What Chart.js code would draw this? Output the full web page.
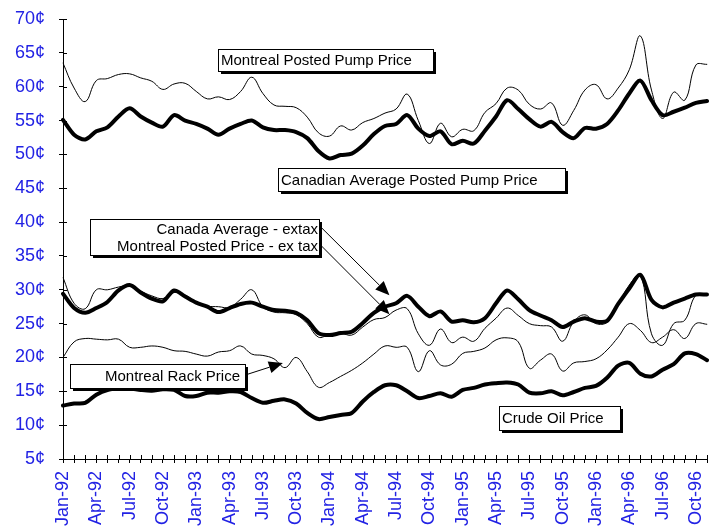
<!DOCTYPE html>
<html>
<head>
<meta charset="utf-8">
<script src="https://cdn.jsdelivr.net/npm/chart.js@4/dist/chart.umd.min.js"></script>
<style>
  html, body { margin: 0; padding: 0; background: #fff; overflow: hidden; }
  canvas { display: block; }
</style>
</head>
<body>
<canvas id="c" width="709" height="527"></canvas>
<script>
// Monthly gasoline and crude prices, cents per litre, Jan-92 .. Nov-96
const months = [
  'Jan-92','Feb-92','Mar-92','Apr-92','May-92','Jun-92','Jul-92','Aug-92','Sep-92','Oct-92','Nov-92','Dec-92',
  'Jan-93','Feb-93','Mar-93','Apr-93','May-93','Jun-93','Jul-93','Aug-93','Sep-93','Oct-93','Nov-93','Dec-93',
  'Jan-94','Feb-94','Mar-94','Apr-94','May-94','Jun-94','Jul-94','Aug-94','Sep-94','Oct-94','Nov-94','Dec-94',
  'Jan-95','Feb-95','Mar-95','Apr-95','May-95','Jun-95','Jul-95','Aug-95','Sep-95','Oct-95','Nov-95','Dec-95',
  'Jan-96','Feb-96','Mar-96','Apr-96','May-96','Jun-96','Jul-96','Aug-96','Sep-96','Oct-96','Nov-96'
];

const montrealPump = [
  63.5, 59.8, 57.8, 60.9, 61.2, 61.8, 61.9, 61.3, 60.8, 59.6, 60.4, 60.5,
  59.3, 58.2, 58.5, 58.1, 59.3, 61.4, 59.0, 57.3, 57.1, 56.9, 55.5, 53.2,
  52.7, 54.2, 53.6, 54.7, 55.3, 56.1, 56.7, 58.9, 55.0, 51.6, 54.6, 52.6,
  53.7, 53.5, 56.2, 57.5, 59.8, 59.5, 57.4, 56.7, 57.6, 54.3, 56.5, 59.5,
  60.3, 58.2, 59.8, 62.5, 67.5, 59.5, 55.3, 59.2, 58.0, 63.2, 63.3
];

const canadaPump = [
  55.1, 52.9, 52.2, 53.4, 54.0, 55.6, 56.8, 55.6, 54.7, 54.1, 55.8, 55.0,
  54.5, 53.8, 52.9, 53.8, 54.5, 55.0, 54.0, 53.6, 53.6, 53.3, 52.4, 50.5,
  49.4, 49.9, 50.1, 51.3, 53.0, 54.2, 54.5, 55.8, 53.8, 52.7, 53.4, 51.5,
  52.0, 51.6, 53.5, 55.6, 58.0, 56.7, 55.2, 54.1, 54.8, 53.3, 52.4, 53.9,
  53.8, 54.5, 56.5, 59.0, 60.9, 58.0, 55.8, 56.3, 56.9, 57.6, 57.9
];

const canadaExTax = [
  29.4, 27.3, 26.6, 27.3, 28.2, 29.9, 30.7, 29.6, 28.7, 28.3, 29.9, 29.0,
  28.1, 27.5, 26.7, 27.3, 27.9, 28.1, 27.5, 27.0, 26.9, 26.6, 25.5, 23.6,
  23.3, 23.6, 23.8, 25.1, 26.6, 27.5, 28.0, 29.1, 27.5, 26.1, 26.8, 25.3,
  25.5, 25.2, 25.8, 28.0, 29.9, 28.6, 27.0, 26.2, 25.5, 24.5, 25.3, 25.8,
  25.3, 25.4, 27.9, 30.2, 32.2, 28.5, 27.4, 28.1, 28.7, 29.3, 29.3
];

const montrealExTax = [
  31.8, 28.0, 27.2, 30.0, 30.0, 30.4, 30.6, 29.8, 29.1, 28.7, 29.6, 29.2,
  28.2, 27.6, 27.5, 27.4, 28.6, 30.0, 27.5, 26.7, 26.6, 26.3, 25.0, 23.0,
  23.4, 23.6, 23.3, 24.5, 25.6, 25.9, 27.0, 27.2, 23.5, 21.8, 24.2, 22.2,
  23.0, 22.4, 24.3, 25.8, 27.3, 26.2, 25.0, 24.7, 24.5, 22.4, 25.3, 26.3,
  25.0, 25.2, 27.8, 30.7, 32.2, 23.5, 21.8, 25.0, 25.5, 29.2, 29.3
];

const montrealRack = [
  20.0, 22.3, 22.8, 22.7, 22.6, 22.7, 21.5, 21.5, 21.7, 21.5, 21.0, 20.9,
  20.5, 20.2, 20.8, 21.0, 21.7, 20.5, 20.3, 19.8, 18.5, 20.0, 17.9, 15.6,
  16.3, 17.2, 18.1, 19.2, 20.5, 21.7, 21.5, 21.5, 17.9, 21.0, 18.9, 19.0,
  20.6, 20.9, 21.4, 22.6, 22.9, 22.3, 18.4, 19.6, 20.5, 18.0, 19.2, 19.4,
  19.8, 21.1, 23.0, 25.0, 24.0, 22.2, 23.0, 24.1, 22.8, 25.0, 24.9
];

const crudeOil = [
  12.9, 13.2, 13.3, 14.5, 15.2, 15.4, 15.4, 15.2, 15.1, 15.3, 15.2, 14.3,
  14.3, 14.8, 14.8, 15.0, 14.9, 14.0, 13.3, 13.6, 13.8, 13.2, 11.8, 10.9,
  11.2, 11.5, 11.8, 13.5, 14.9, 15.9, 15.9, 15.0, 14.0, 14.3, 14.7, 14.2,
  15.2, 15.5, 16.0, 16.2, 16.3, 16.0, 14.8, 14.7, 15.0, 14.4, 14.9, 15.5,
  15.8, 17.0, 18.8, 19.2, 17.6, 17.2, 18.2, 19.0, 20.6, 20.5, 19.6
];

// Callout boxes and pointers, placed in axis units (month index, cents)
const callouts = [
  { lines: ['Montreal Posted Pump Price'], x1: 14.0, x2: 33.3, yTop: 65.6, yBottom: 62.3, align: 'left' },
  { lines: ['Canadian Average Posted Pump Price'], x1: 19.4, x2: 45.2, yTop: 48.0, yBottom: 44.6, align: 'left' },
  { lines: ['Canada Average - extax', 'Montreal Posted Price - ex tax'], x1: 2.4, x2: 23.1, yTop: 40.5, yBottom: 35.1, align: 'right' },
  { lines: ['Montreal Rack Price'], x1: 0.6, x2: 16.4, yTop: 19.0, yBottom: 15.5, align: 'right' },
  { lines: ['Crude Oil Price'], x1: 39.3, x2: 50.2, yTop: 12.8, yBottom: 9.3, align: 'left' }
];
const pointers = [
  { from: [23.2, 39.3], to: [29.4, 29.2] },
  { from: [23.2, 36.6], to: [29.4, 26.4] },
  { from: [16.4, 17.4], to: [19.8, 19.2] }
];

const TICK_BLUE = '#2222e4';
const FONT = 'Liberation Sans, Arial, Helvetica, sans-serif';

function series(data, width, tension) {
  return {
    data, borderColor: '#000', backgroundColor: '#000', borderWidth: width,
    pointRadius: 0, tension, fill: false, borderJoinStyle: 'round', borderCapStyle: 'round'
  };
}

// Ticks that cross the axis lines (inner half)
const crossTicks = {
  id: 'crossTicks',
  afterDatasetsDraw(chart) {
    const { ctx, chartArea, scales } = chart;
    ctx.save();
    ctx.strokeStyle = '#000';
    ctx.lineWidth = 1;
    ctx.beginPath();
    scales.x.ticks.forEach((t, i) => {
      const x = Math.round(scales.x.getPixelForTick(i)) + 0.5;
      ctx.moveTo(x, chartArea.bottom - 4);
      ctx.lineTo(x, chartArea.bottom);
    });
    scales.y.ticks.forEach((t, i) => {
      const y = Math.round(scales.y.getPixelForTick(i)) + 0.5;
      ctx.moveTo(chartArea.left, y);
      ctx.lineTo(chartArea.left + 4, y);
    });
    ctx.stroke();
    ctx.restore();
  }
};

// Labelled boxes with drop shadow, and arrows to the lines
const calloutPlugin = {
  id: 'callouts',
  afterDraw(chart) {
    const { ctx, scales } = chart;
    const px = v => scales.x.getPixelForValue(v);
    const py = v => scales.y.getPixelForValue(v);
    ctx.save();

    pointers.forEach(p => {
      const x0 = px(p.from[0]), y0 = py(p.from[1]);
      const x1 = px(p.to[0]), y1 = py(p.to[1]);
      const ang = Math.atan2(y1 - y0, x1 - x0);
      const len = 14, half = 6;
      const bx = x1 - len * Math.cos(ang), by = y1 - len * Math.sin(ang);
      ctx.strokeStyle = '#000';
      ctx.lineWidth = 1;
      ctx.beginPath();
      ctx.moveTo(x0, y0);
      ctx.lineTo(bx, by);
      ctx.stroke();
      ctx.fillStyle = '#000';
      ctx.beginPath();
      ctx.moveTo(x1, y1);
      ctx.lineTo(bx + half * Math.sin(ang), by - half * Math.cos(ang));
      ctx.lineTo(bx - half * Math.sin(ang), by + half * Math.cos(ang));
      ctx.closePath();
      ctx.fill();
    });

    callouts.forEach(c => {
      const l = Math.round(px(c.x1)), r = Math.round(px(c.x2));
      const t = Math.round(py(c.yTop)), b = Math.round(py(c.yBottom));
      const w = r - l, h = b - t;
      ctx.fillStyle = '#000';
      ctx.fillRect(l + 3, t + 3, w, h);
      ctx.fillStyle = '#fff';
      ctx.fillRect(l, t, w, h);
      ctx.strokeStyle = '#000';
      ctx.lineWidth = 1;
      ctx.strokeRect(l + 0.5, t + 0.5, w, h);

      ctx.save();
      ctx.beginPath();
      ctx.rect(l + 1, t + 1, w - 1, h - 1);
      ctx.clip();
      ctx.fillStyle = '#000';
      ctx.font = '15px ' + FONT;
      ctx.textBaseline = 'middle';
      ctx.textAlign = c.align;
      const lh = 17;
      const cy = t + h / 2 + 1;
      const y0 = cy - (c.lines.length - 1) * lh / 2;
      const tx = c.align === 'left' ? l + 3 : r - (c.lines.length > 1 ? 1 : 5);
      c.lines.forEach((s, i) => ctx.fillText(s, tx, y0 + i * lh));
      ctx.restore();
    });
    ctx.restore();
  }
};

new Chart(document.getElementById('c'), {
  type: 'line',
  data: {
    labels: months,
    datasets: [
      series(montrealPump, 1, 0.4),
      series(montrealExTax, 1, 0.4),
      series(montrealRack, 1, 0.4),
      series(canadaPump, 4, 0.3),
      series(canadaExTax, 4, 0.3),
      series(crudeOil, 4, 0.3)
    ]
  },
  options: {
    responsive: false,
    animation: false,
    events: [],
    layout: { padding: { top: 19, right: 2, left: 0, bottom: 0 } },
    plugins: { legend: { display: false }, tooltip: { enabled: false } },
    scales: {
      x: {
        type: 'category',
        grid: { drawOnChartArea: false, tickLength: 4, color: '#000' },
        border: { color: '#000', width: 1 },
        ticks: {
          autoSkip: false, minRotation: 90, maxRotation: 90, padding: 8,
          color: TICK_BLUE, font: { family: FONT, size: 18 },
          callback(value, index) { return index % 3 === 0 ? this.getLabelForValue(value) : ''; }
        },
        afterFit(s) { s.height = 68; s.paddingLeft = 0; s.paddingRight = 0; }
      },
      y: {
        min: 5, max: 70,
        grid: { drawOnChartArea: false, tickLength: 4, color: '#000' },
        border: { color: '#000', width: 1 },
        ticks: {
          stepSize: 5, padding: 14, color: TICK_BLUE, font: { family: FONT, size: 18 },
          callback: v => v + '¢'
        },
        afterFit(s) { s.width = 63; s.paddingTop = 0; s.paddingBottom = 0; }
      }
    }
  },
  plugins: [crossTicks, calloutPlugin]
});
</script>
</body>
</html>
